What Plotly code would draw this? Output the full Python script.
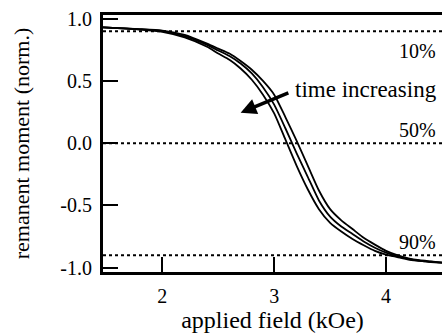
import plotly.graph_objects as go

field = [1.47, 1.6, 1.8, 2.0, 2.2, 2.4, 2.5, 2.6, 2.7, 2.8, 2.9, 3.0, 3.1, 3.2,
         3.3, 3.4, 3.5, 3.6, 3.7, 3.8, 3.9, 4.0, 4.1, 4.2, 4.3, 4.4, 4.5]
moment_late = [0.93, 0.925, 0.913, 0.895, 0.85, 0.775, 0.72, 0.67, 0.60, 0.51, 0.39,
               0.24, 0.03, -0.18, -0.37, -0.53, -0.64, -0.71, -0.77, -0.82, -0.865,
               -0.895, -0.915, -0.935, -0.945, -0.955, -0.96]
moment_mid = [0.93, 0.925, 0.915, 0.90, 0.86, 0.79, 0.745, 0.70, 0.64, 0.56, 0.45,
              0.31, 0.12, -0.08, -0.27, -0.46, -0.59, -0.67, -0.73, -0.79, -0.84,
              -0.88, -0.91, -0.93, -0.945, -0.952, -0.96]
moment_early = [0.93, 0.925, 0.917, 0.905, 0.87, 0.80, 0.76, 0.72, 0.66, 0.59, 0.50,
                0.39, 0.21, 0.02, -0.18, -0.38, -0.53, -0.62, -0.69, -0.76, -0.815,
                -0.865, -0.90, -0.925, -0.94, -0.95, -0.96]

levels = [0.9, 0.0, -0.9]
level_labels = ["10%", "50%", "90%"]
level_label_y = [0.74, 0.11, -0.79]

xticks = [2, 3, 4]
yticks = [1.0, 0.5, 0.0, -0.5, -1.0]
yticktext = ["1.0", "0.5", "0.0", "-0.5", "-1.0"]

FONT = "Liberation Serif"

fig = go.Figure()
for ys in (moment_late, moment_mid, moment_early):
    fig.add_trace(go.Scatter(x=field, y=ys, mode="lines",
                             line=dict(color="black", width=1.8, shape="spline", smoothing=0.6),
                             showlegend=False, hoverinfo="skip"))

for lv in levels:
    fig.add_shape(type="line", xref="paper", x0=0, x1=1, yref="y", y0=lv, y1=lv,
                  line=dict(color="black", width=2, dash="dot"))

for lab, ly in zip(level_labels, level_label_y):
    fig.add_annotation(x=1, xref="paper", xanchor="right", y=ly, yref="y", xshift=-4,
                       text=lab, showarrow=False, font=dict(family=FONT, size=20, color="black"))

fig.add_annotation(x=1, xref="paper", xanchor="right", y=0.43, yref="y", xshift=-3,
                   text="time increasing", showarrow=False,
                   font=dict(family=FONT, size=23, color="black"))
fig.add_annotation(x=2.70, y=0.245, ax=3.14, ay=0.41, axref="x", ayref="y",
                   xref="x", yref="y", text="", showarrow=True,
                   arrowhead=2, arrowsize=0.9, arrowwidth=3.5, arrowcolor="black")

fig.update_xaxes(range=[1.47, 4.5], tickvals=xticks, ticks="inside", ticklen=15,
                 tickwidth=2, tickcolor="black", showline=True, linewidth=3,
                 linecolor="black", mirror=True, showgrid=False, zeroline=False,
                 automargin=False, ticklabelstandoff=4,
                 tickfont=dict(family=FONT, size=20, color="black"),
                 title=dict(text="applied field (kOe)", standoff=5,
                            font=dict(family=FONT, size=24, color="black")))
fig.update_yaxes(range=[-1.035, 1.03], tickvals=yticks, ticktext=yticktext,
                 ticks="inside", ticklen=15, tickwidth=2, tickcolor="black",
                 showline=True, linewidth=3, linecolor="black", mirror=False,
                 showgrid=False, zeroline=False, automargin=False, ticklabelstandoff=4,
                 tickfont=dict(family=FONT, size=20, color="black"),
                 title=dict(text="remanent moment (norm.)", standoff=25,
                            font=dict(family=FONT, size=22, color="black")))

fig.update_layout(width=442, height=335, margin=dict(l=103, r=0, t=15, b=63),
                  plot_bgcolor="white", paper_bgcolor="white")

fig.write_html("out.html")
